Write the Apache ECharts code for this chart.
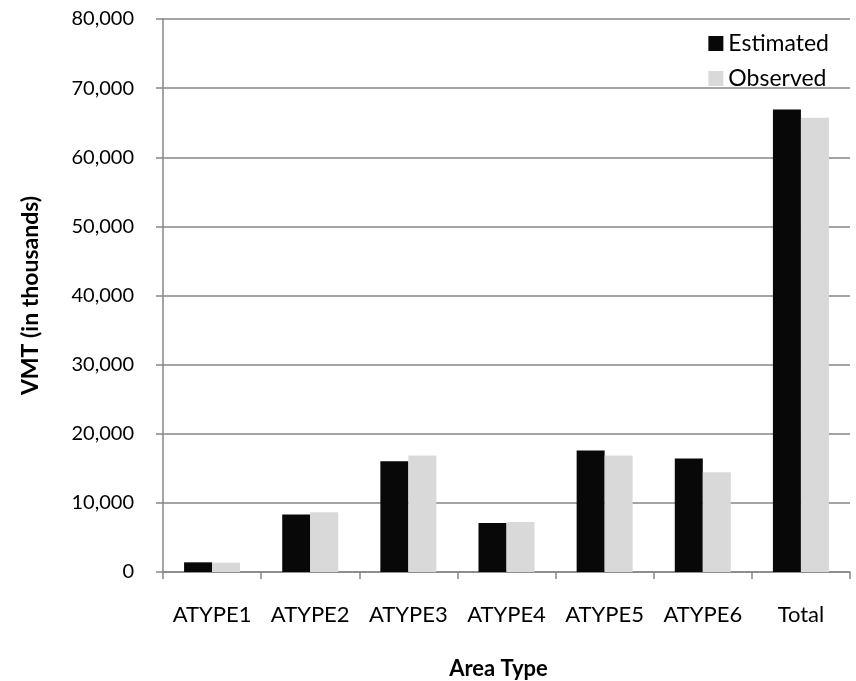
<!DOCTYPE html>
<html>
<head>
<meta charset="utf-8">
<script src="https://cdn.jsdelivr.net/npm/echarts@6/dist/echarts.min.js"></script>
<style>
  html, body { margin: 0; padding: 0; background: #fff; }
  #chart { width: 856px; height: 681px; }
</style>
</head>
<body>
<div id="chart"></div>
<script>
// Area types along the x axis
const categories = ['ATYPE1', 'ATYPE2', 'ATYPE3', 'ATYPE4', 'ATYPE5', 'ATYPE6', 'Total'];
// VMT in thousands
const estimated = [1400, 8310, 16020, 7090, 17570, 16410, 66900];
const observed  = [1350, 8640, 16850, 7240, 16850, 14430, 65700];
const yTicks = { min: 0, max: 80000, interval: 10000 };

const font = 'Lato, "Open Sans", "Liberation Sans", sans-serif';
const axisGrey = '#868686';

const chart = echarts.init(document.getElementById('chart'), null, { renderer: 'canvas' });
chart.setOption({
  animation: false,
  backgroundColor: '#ffffff',
  textStyle: { fontFamily: font },
  grid: { left: 163, right: 6, top: 19, bottom: 109, containLabel: false, outerBoundsMode: 'none' },
  legend: {
    orient: 'vertical',
    right: 22,
    top: 27,
    itemWidth: 15,
    itemHeight: 15,
    itemGap: 12,
    icon: 'rect',
    textStyle: { fontFamily: font, fontSize: 23, color: '#000' },
    data: ['Estimated', 'Observed']
  },
  xAxis: {
    type: 'category',
    data: categories,
    name: 'Area Type',
    nameLocation: 'middle',
    nameGap: 86,
    nameTextStyle: { fontFamily: font, fontSize: 22, fontWeight: 'bold', color: '#000', padding: [0, 16, 0, 0] },
    axisLine: { lineStyle: { color: axisGrey, width: 1.5 } },
    axisTick: { show: true, length: 7, lineStyle: { color: axisGrey, width: 1.5 } },
    axisLabel: { fontFamily: font, fontSize: 22, color: '#000', margin: 32, interval: 0, hideOverlap: false }
  },
  yAxis: {
    type: 'value',
    min: yTicks.min,
    max: yTicks.max,
    interval: yTicks.interval,
    name: 'VMT (in thousands)',
    nameLocation: 'middle',
    nameRotate: 90,
    nameGap: 121,
    nameTextStyle: { fontFamily: font, fontSize: 23, fontWeight: 'bold', color: '#000' },
    axisLine: { show: true, lineStyle: { color: axisGrey, width: 1.5 } },
    axisTick: { show: true, length: 7, lineStyle: { color: axisGrey, width: 1.5 } },
    axisLabel: {
      fontFamily: font, fontSize: 20, color: '#000', margin: 29,
      formatter: v => v.toLocaleString('en-US')
    },
    splitLine: { show: true, lineStyle: { color: axisGrey, width: 1.5 } }
  },
  series: [
    {
      name: 'Estimated',
      type: 'bar',
      data: estimated,
      barWidth: 28,
      barGap: '0%',
      itemStyle: { color: '#080808' }
    },
    {
      name: 'Observed',
      type: 'bar',
      data: observed,
      barWidth: 28,
      barGap: '0%',
      itemStyle: { color: '#d9d9d9' }
    }
  ]
});
</script>
</body>
</html>
